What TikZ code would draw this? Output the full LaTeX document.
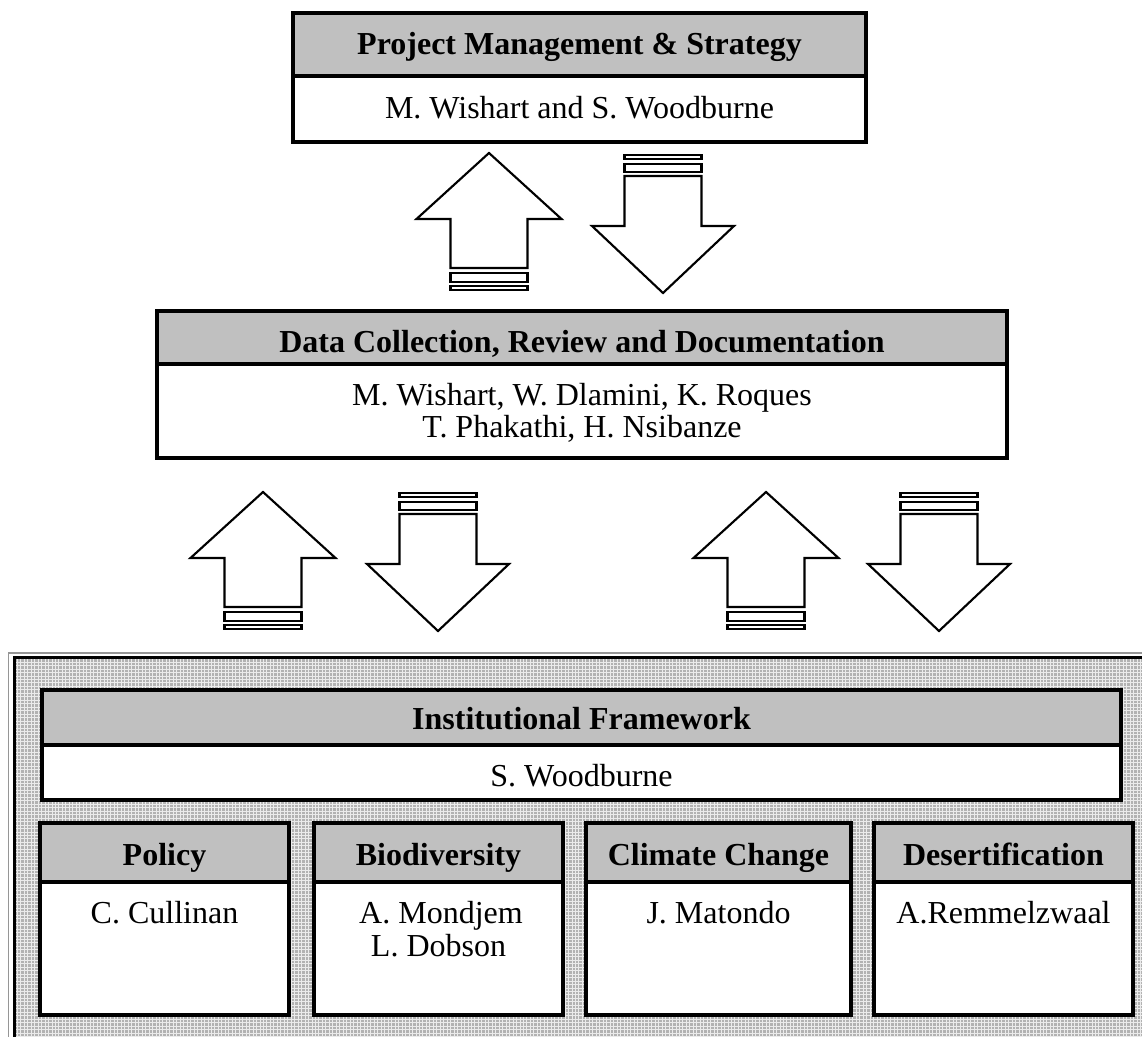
\documentclass[tikz,border=0pt]{standalone}
\usepackage{fontspec}
\setmainfont{Liberation Serif}
\definecolor{headgray}{RGB}{192,192,192}
\definecolor{panelgray}{RGB}{178,178,178}
\definecolor{framegray}{RGB}{150,150,150}
\tikzset{
  x=0.375pt, y=-0.375pt,
  boxline/.style={draw=black, line width=1.15pt},
  headfill/.style={fill=headgray},
  bodyfill/.style={fill=white},
  headtext/.style={font=\bfseries\fontsize{12}{14}\selectfont, inner sep=0pt, anchor=base},
  bodytext/.style={font=\fontsize{12}{14}\selectfont, inner sep=0pt, anchor=base},
  blockarrow/.style={draw=black, line width=0.8pt, fill=white, line join=miter},
  pics/uparrow/.style={code={
    \draw[blockarrow] (0,0) -- (72.5,66) -- (38.5,66) -- (38.5,115)
      -- (-38.5,115) -- (-38.5,66) -- (-72.5,66) -- cycle;
    \draw[blockarrow] (-38.5,120) rectangle (38.5,129);
    \draw[blockarrow] (-38.5,133) rectangle (38.5,137);
  }},
  pics/downarrow/.style={code={
    \draw[blockarrow] (0,0) -- (-71,-67) -- (-38.5,-67) -- (-38.5,-117)
      -- (38.5,-117) -- (38.5,-67) -- (71,-67) -- cycle;
    \draw[blockarrow] (-38.5,-129) rectangle (38.5,-121);
    \draw[blockarrow] (-38.5,-138) rectangle (38.5,-134);
  }},
}
\begin{document}
\begin{tikzpicture}
\useasboundingbox (0,0) rectangle (1142,1037);
\clip (0,0) rectangle (1142,1037);
\fill[white] (0,0) rectangle (1142,1037);

% ---- Project management box
\fill[headfill] (293,13) rectangle (866,76);
\fill[bodyfill] (293,76) rectangle (866,142);
\draw[boxline] (293,13) rectangle (866,142) (293,76) -- (866,76);
\node[headtext] (pmhead) at (579.5,55) {Project Management \& Strategy};
\node[bodytext] (pmbody) at (579.5,119) {M. Wishart and S. Woodburne};

% ---- arrows between top and middle
\pic at (489,153) {uparrow};
\pic at (663,293) {downarrow};

% ---- Data collection box
\fill[headfill] (157,311) rectangle (1007,364);
\fill[bodyfill] (157,364) rectangle (1007,458);
\draw[boxline] (157,311) rectangle (1007,458) (157,364) -- (1007,364);
\node[headtext] (dchead) at (582,352) {Data Collection, Review and Documentation};
\node[bodytext] (dcbody1) at (582,405) {M. Wishart, W. Dlamini, K. Roques};
\node[bodytext] (dcbody2) at (582,438) {T. Phakathi, H. Nsibanze};

% ---- arrows between middle and bottom
\pic at (263,492) {uparrow};
\pic at (438,631) {downarrow};
\pic at (766,492) {uparrow};
\pic at (939,631) {downarrow};

% ---- bottom panel: double frame around a fine light grid texture
\draw[framegray, line width=0.5pt] (8.5,653) rectangle (1160,1060);
\fill[panelgray] (14.5,657.5) rectangle (1160,1060);
\begin{scope}
  \clip (14.5,657.5) rectangle (1160,1060);
  \draw[white!92!black, line width=0.35pt, step=1.3pt] (0,640) grid (1160,1060);
\end{scope}
\draw[black, line width=1.4pt] (14.5,657.5) rectangle (1160,1060);

% Institutional framework
\fill[headfill] (42,690) rectangle (1121,745);
\fill[bodyfill] (42,745) rectangle (1121,800);
\draw[boxline] (42,690) rectangle (1121,800) (42,745) -- (1121,745);
\node[headtext] (ifhead) at (581.5,729) {Institutional Framework};
\node[bodytext] (ifbody) at (581.5,786) {S. Woodburne};

% Sub boxes
\foreach \l/\r in {40/289, 314/563, 586/851, 874/1133}{
  \fill[headfill] (\l,823) rectangle (\r,882);
  \fill[bodyfill] (\l,882) rectangle (\r,1015);
  \draw[boxline] (\l,823) rectangle (\r,1015) (\l,882) -- (\r,882);
}
\node[headtext] (pohead) at (164.5,865) {Policy};
\node[bodytext] (pobody) at (164.5,923) {C. Cullinan};
\node[headtext] (bihead) at (438.5,865) {Biodiversity};
\node[bodytext] (bibody1) at (441,923) {A. Mondjem};
\node[bodytext] (bibody2) at (438.5,956) {L. Dobson};
\node[headtext] (cchead) at (718.5,865) {Climate Change};
\node[bodytext] (ccbody) at (718.5,923) {J. Matondo};
\node[headtext] (dehead) at (1003.5,865) {Desertification};
\node[bodytext] (debody) at (1003.5,923) {A.Remmelzwaal};
\end{tikzpicture}
\end{document}
